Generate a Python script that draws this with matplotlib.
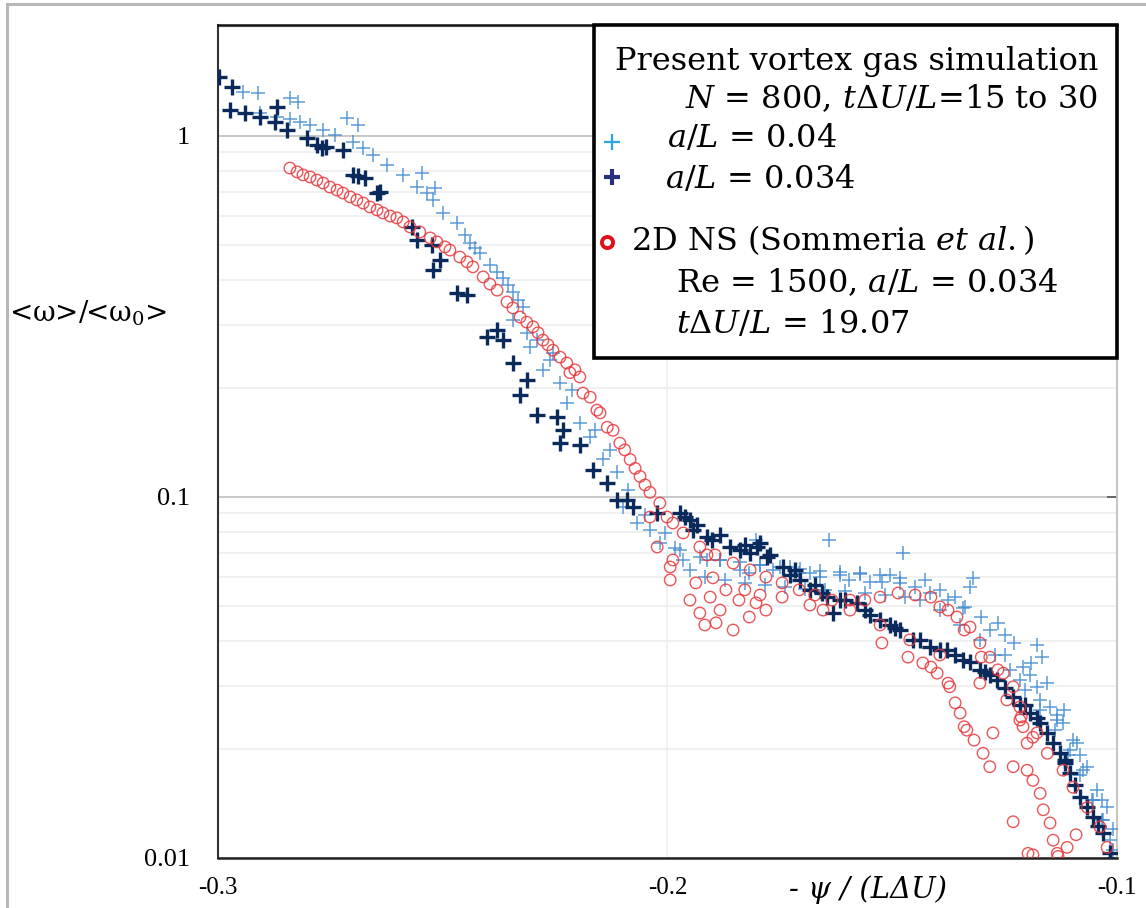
"""
 Vortex gas vs 2D NS — mean vorticity vs stream function (log scale)
"""

import matplotlib
matplotlib.use('Agg')
import matplotlib.pyplot as plt
from matplotlib.patches import Rectangle
from matplotlib.lines import Line2D
from matplotlib.ticker import LogLocator, NullFormatter

plt.rcParams['mathtext.fontset'] = 'dejavuserif'
plt.rcParams['axes.unicode_minus'] = False

# ── Data ─────────────────────────────────────────────
# vortex gas, a/L = 0.04
lb_x = [-0.2944, -0.2911, -0.2840, -0.2822, -0.2713, -0.2688, -0.2907, -0.2869, -0.2840, -0.2818,
        -0.2795, -0.2766, -0.2740, -0.2700, -0.2677, -0.2655, -0.2624, -0.2588, -0.2557, -0.2535,
        -0.2522, -0.2499, -0.2468, -0.2546, -0.2517, -0.2439, -0.2417, -0.2395, -0.2366, -0.2344,
        -0.2321, -0.2344, -0.2313, -0.2306, -0.2277, -0.2255, -0.2239, -0.2224, -0.2195, -0.2172,
        -0.2143, -0.2112, -0.2099, -0.2068, -0.2039, -0.2017, -0.1972, -0.1950, -0.1912, -0.1965,
        -0.1884, -0.1839, -0.1818, -0.1794, -0.1765, -0.1727, -0.1707, -0.1683, -0.1661, -0.1616,
        -0.1596, -0.1572, -0.1549, -0.1522, -0.1505, -0.1483, -0.1449, -0.1427, -0.1416, -0.1394,
        -0.1376, -0.1360, -0.1338, -0.1302, -0.1283, -0.1265, -0.1249, -0.1229, -0.1215, -0.1209,
        -0.1191, -0.1178, -0.1171, -0.1155, -0.1149, -0.1134, -0.1120, -0.1118, -0.1105, -0.1098,
        -0.1089, -0.1076, -0.1066, -0.1053, -0.1044, -0.1031, -0.1022, -0.1016, -0.1009, -0.1009,
        -0.1803, -0.1641, -0.1476, -0.1320, -0.1327, -0.1178, -0.1167,
        # upper part, extra readings
        -0.2450, -0.2428, -0.2379, -0.2355, -0.2333, -0.2290, -0.2261, -0.2212, -0.2161, -0.2128,
        -0.2088, -0.2050, -0.2005, -0.1983,
        # plateau band, upper and lower edge
        -0.1928, -0.1883, -0.1839, -0.1794, -0.1750, -0.1705, -0.1661, -0.1616, -0.1572, -0.1527,
        -0.1483, -0.1916, -0.1872, -0.1827, -0.1783, -0.1738, -0.1694, -0.1649, -0.1605, -0.1560,
        -0.1516, -0.1471,
        # falling band
        -0.1438, -0.1394, -0.1349, -0.1305, -0.1271, -0.1238, -0.1204, -0.1171, -0.1138, -0.1109,
        -0.1082, -0.1055, -0.1033, -0.1342, -0.1249, -0.1193, -0.1133, -0.1082, -0.1033]
lb_y = [1.324, 1.315, 1.274, 1.243, 1.122, 1.073, 1.158, 1.129, 1.115, 1.094,
        1.073, 1.039, 1.006, 0.963, 0.926, 0.886, 0.831, 0.780, 0.722, 0.695,
        0.665, 0.612, 0.574, 0.790, 0.718, 0.505, 0.474, 0.439, 0.404, 0.370,
        0.336, 0.309, 0.285, 0.260, 0.225, 0.251, 0.207, 0.182, 0.160, 0.147,
        0.127, 0.117, 0.0938, 0.0847, 0.0810, 0.0746, 0.0713, 0.0628, 0.0669, 0.0669,
        0.0669, 0.0628, 0.0616, 0.0648, 0.0628, 0.0640, 0.0616, 0.0616, 0.0600, 0.0608,
        0.0589, 0.0616, 0.0581, 0.0581, 0.0608, 0.0578, 0.0563, 0.0589, 0.0542, 0.0553,
        0.0518, 0.0528, 0.0496, 0.0465, 0.0428, 0.0448, 0.0365, 0.0394, 0.0311, 0.0338,
        0.0347, 0.0298, 0.0274, 0.0305, 0.0262, 0.0241, 0.0237, 0.0257, 0.0199, 0.0212,
        0.0208, 0.0175, 0.0179, 0.0145, 0.0154, 0.0127, 0.0138, 0.0112, 0.0120, 0.0105,
        0.0760, 0.0760, 0.0700, 0.0597, 0.0563, 0.0389, 0.0360,
        0.532, 0.490, 0.420, 0.387, 0.351, 0.272, 0.240, 0.198, 0.153, 0.135,
        0.1045, 0.0892, 0.0795, 0.0722,
        0.0682, 0.0669, 0.0660, 0.0648, 0.0640, 0.0632, 0.0624, 0.0620, 0.0612, 0.0608,
        0.0597, 0.0600, 0.0589, 0.0578, 0.0571, 0.0563, 0.0556, 0.0553, 0.0549, 0.0542,
        0.0535, 0.0528,
        0.0518, 0.0486, 0.0442, 0.0402, 0.0365, 0.0332, 0.0292, 0.0257, 0.0226, 0.0193,
        0.0170, 0.0145, 0.0127, 0.0493, 0.0415, 0.0321, 0.0249, 0.0193, 0.0145]

# vortex gas, a/L = 0.034
dk_x = [-0.2998, -0.2969, -0.2973, -0.2940, -0.2907, -0.2869, -0.2873, -0.2846, -0.2802, -0.2780,
        -0.2769, -0.2760, -0.2722, -0.2700, -0.2689, -0.2673, -0.2646, -0.2640, -0.2568, -0.2557,
        -0.2524, -0.2506, -0.2522, -0.2468, -0.2446, -0.2401, -0.2379, -0.2366, -0.2344, -0.2313,
        -0.2328, -0.2290, -0.2246, -0.2232, -0.2239, -0.2195, -0.2166, -0.2134, -0.2112, -0.2090,
        -0.2077, -0.2023, -0.1972, -0.1950, -0.1943, -0.1912, -0.1884, -0.1861, -0.1828, -0.1801,
        -0.1794, -0.1778, -0.1772, -0.1743, -0.1717, -0.1705, -0.1672, -0.1645, -0.1632, -0.1605,
        -0.1578, -0.1561, -0.1527, -0.1505, -0.1483, -0.1454, -0.1416, -0.1378, -0.1360, -0.1342,
        -0.1305, -0.1283, -0.1267, -0.1231, -0.1215, -0.1194, -0.1171, -0.1155, -0.1142, -0.1127,
        -0.1116, -0.1105, -0.1082, -0.1066, -0.1053, -0.1031, -0.1016, -0.1016,
        # plateau / falling band, extra readings
        -0.1961, -0.1934, -0.1901, -0.1839, -0.1816, -0.1727, -0.1683, -0.1656, -0.1616, -0.1549,
        -0.1494, -0.1438, -0.1394, -0.1327, -0.1293, -0.1249, -0.1204, -0.1178, -0.1116, -0.1093,
        -0.1042]
dk_y = [1.457, 1.367, 1.180, 1.158, 1.129, 1.203, 1.094, 1.039, 0.987, 0.944,
        0.926, 0.935, 0.915, 0.780, 0.776, 0.765, 0.695, 0.700, 0.560, 0.515,
        0.499, 0.453, 0.425, 0.367, 0.363, 0.277, 0.290, 0.272, 0.235, 0.211,
        0.192, 0.169, 0.167, 0.153, 0.141, 0.139, 0.119, 0.109, 0.0981, 0.0981,
        0.0938, 0.0903, 0.0903, 0.0864, 0.0810, 0.0775, 0.0785, 0.0727, 0.0736, 0.0727,
        0.0746, 0.0682, 0.0691, 0.0640, 0.0628, 0.0589, 0.0571, 0.0528, 0.0477, 0.0518,
        0.0509, 0.0486, 0.0456, 0.0442, 0.0428, 0.0402, 0.0384, 0.0377, 0.0365, 0.0354,
        0.0332, 0.0321, 0.0311, 0.0279, 0.0265, 0.0252, 0.0237, 0.0222, 0.0208, 0.0195,
        0.0183, 0.0172, 0.0148, 0.0138, 0.0130, 0.0117, 0.0103, 0.0099,
        0.0880, 0.0836, 0.0760, 0.0713, 0.0700, 0.0608, 0.0553, 0.0542, 0.0518, 0.0471,
        0.0434, 0.0402, 0.0377, 0.0349, 0.0327, 0.0296, 0.0265, 0.0244, 0.0187, 0.0159,
        0.0123]

# 2D Navier-Stokes (Sommeria et al.)
rd_x = [-0.2840, -0.2824, -0.2811, -0.2795, -0.2780, -0.2766, -0.2751, -0.2735, -0.2722, -0.2706,
        -0.2691, -0.2677, -0.2662, -0.2646, -0.2633, -0.2617, -0.2602, -0.2588, -0.2573, -0.2551,
        -0.2528, -0.2513, -0.2495, -0.2484, -0.2462, -0.2446, -0.2433, -0.2410, -0.2395, -0.2379,
        -0.2357, -0.2344, -0.2328, -0.2313, -0.2299, -0.2288, -0.2277, -0.2266, -0.2255, -0.2239,
        -0.2224, -0.2217, -0.2206, -0.2195, -0.2188, -0.2172, -0.2157, -0.2150, -0.2134, -0.2121,
        -0.2106, -0.2095, -0.2083, -0.2072, -0.2061, -0.2050, -0.2039, -0.2017, -0.2001, -0.1988,
        -0.1965, -0.1928, -0.1894, -0.1854, -0.1816, -0.1781, -0.1745, -0.1707, -0.1672, -0.1634,
        -0.1594, -0.1561, -0.1527, -0.1487, -0.1449, -0.1414, -0.1394, -0.1376, -0.1356, -0.1340,
        -0.1327, -0.1305, -0.1302, -0.1283, -0.1265, -0.1253, -0.1231, -0.1216, -0.1213, -0.1209,
        -0.1200, -0.1178,
        -0.1594, -0.1527, -0.1461, -0.1394, -0.1305, -0.1245, -0.1216, -0.1187, -0.1155, -0.1120,
        -0.1098, -0.1066, -0.1038, -0.1022,
        -0.2039, -0.2023, -0.1994, -0.1994, -0.1988, -0.1950, -0.1937, -0.1928, -0.1917, -0.1905,
        -0.1892, -0.1883, -0.1870, -0.1854, -0.1841, -0.1828, -0.1818, -0.1803, -0.1794, -0.1781,
        -0.1745, -0.1683, -0.1654, -0.1912, -0.1899,
        -0.1523, -0.1465, -0.1432, -0.1414, -0.1400, -0.1376, -0.1372, -0.1360, -0.1349, -0.1340,
        -0.1334, -0.1318, -0.1298, -0.1283, -0.1276, -0.1231, -0.1200, -0.1187, -0.1171, -0.1164,
        -0.1149, -0.1142, -0.1133, -0.1231, -0.1198, -0.1187, -0.1131, -0.1111, -0.1091]
rd_y = [0.815, 0.795, 0.780, 0.770, 0.755, 0.741, 0.722, 0.708, 0.695, 0.678,
        0.665, 0.652, 0.636, 0.624, 0.612, 0.600, 0.593, 0.578, 0.560, 0.542,
        0.522, 0.509, 0.493, 0.483, 0.462, 0.448, 0.434, 0.407, 0.389, 0.374,
        0.347, 0.334, 0.315, 0.305, 0.296, 0.285, 0.272, 0.264, 0.255, 0.244,
        0.235, 0.221, 0.225, 0.215, 0.194, 0.189, 0.174, 0.171, 0.156, 0.153,
        0.141, 0.135, 0.127, 0.120, 0.114, 0.108, 0.103, 0.0962, 0.0880, 0.0847,
        0.0795, 0.0727, 0.0691, 0.0656, 0.0628, 0.0600, 0.0578, 0.0553, 0.0535, 0.0518,
        0.0518, 0.0518, 0.0528, 0.0542, 0.0535, 0.0528, 0.0496, 0.0486, 0.0465, 0.0428,
        0.0436, 0.0394, 0.0360, 0.0360, 0.0332, 0.0325, 0.0298, 0.0262, 0.0246, 0.0231,
        0.0208, 0.0222,
        0.0486, 0.0442, 0.0402, 0.0365, 0.0305, 0.0274, 0.0241, 0.0216, 0.0195, 0.0175,
        0.0157, 0.0138, 0.0122, 0.0107,
        0.0880, 0.0727, 0.0640, 0.0589, 0.0669, 0.0518, 0.0578, 0.0477, 0.0442, 0.0528,
        0.0448, 0.0486, 0.0553, 0.0428, 0.0518, 0.0553, 0.0465, 0.0509, 0.0535, 0.0486,
        0.0528, 0.0502, 0.0486, 0.0691, 0.0597,
        0.0394, 0.0360, 0.0347, 0.0338, 0.0325, 0.0305, 0.0298, 0.0269, 0.0252, 0.0231,
        0.0226, 0.0212, 0.0195, 0.0179, 0.0222, 0.0179, 0.0175, 0.0164, 0.0151, 0.0136,
        0.0125, 0.0112, 0.0103, 0.0126, 0.0103, 0.0102, 0.0101, 0.0107, 0.0116]

X_TICKS = [-0.3, -0.2, -0.1]
X_LABELS = ['-0.3', '-0.2', '-0.1']
Y_TICKS = [0.01, 0.1, 1]
Y_LABELS = ['0.01', '0.1', '1']

LB_COLOR = '#3f8ad0'
DK_COLOR = '#0b2a5c'
RD_COLOR = '#e8383c'
SERIF = 'DejaVu Serif'

# ── Figure / axes ─────────────────────────────
fig = plt.figure(figsize=(11.46, 9.08), dpi=100)
ax = fig.add_axes([0.1902, 0.0551, 0.7845, 0.9174])

# outer gray frame of the picture
fig.add_artist(Rectangle((0.0061, -0.5), 2.0, 1.4959, transform=fig.transFigure,
                         fill=False, edgecolor='#b8b8b8', linewidth=2.2))

ax.scatter(lb_x, lb_y, marker='+', s=95, linewidths=1.1, color=LB_COLOR, alpha=0.85, zorder=3)
ax.scatter(dk_x, dk_y, marker='+', s=140, linewidths=2.4, color=DK_COLOR, zorder=3)
ax.scatter(rd_x, rd_y, marker='o', s=68, linewidths=1.0, facecolors='none',
           edgecolors=RD_COLOR, alpha=0.85, zorder=4)

ax.set_yscale('log')
ax.set_xlim(-0.3, -0.1)
ax.set_ylim(0.01, 2.03)

ax.set_xticks(X_TICKS)
ax.set_xticklabels(X_LABELS, family='Liberation Serif', fontsize=18)
ax.set_yticks(Y_TICKS)
ax.set_yticklabels(Y_LABELS, family='Liberation Serif', fontsize=19)
ax.yaxis.set_minor_locator(LogLocator(base=10, subs=range(2, 10)))
ax.yaxis.set_minor_formatter(NullFormatter())

ax.tick_params(axis='x', length=0, pad=14)
ax.tick_params(axis='y', which='both', left=False, pad=20)
ax.tick_params(axis='y', which='major', right=True, direction='in', length=7,
               color='#555555', width=1.2)
ax.tick_params(axis='y', which='minor', right=False)

ax.set_axisbelow(True)
ax.yaxis.grid(True, which='major', color='#c4c4c4', linewidth=1.3)
ax.yaxis.grid(True, which='minor', color='#ececec', linewidth=1.1)
ax.xaxis.grid(True, which='major', color='#eeeeee', linewidth=1.1)

ax.spines['left'].set_color('#333333')
ax.spines['left'].set_linewidth(1.5)
ax.spines['bottom'].set_color('#222222')
ax.spines['bottom'].set_linewidth(1.8)
ax.spines['top'].set_color('#111111')
ax.spines['top'].set_linewidth(1.8)
ax.spines['right'].set_color('#c0c0c0')
ax.spines['right'].set_linewidth(1.3)

# ── Axis labels ───────────────────────────────
fig.text(0.077, 0.655, '<ω>/<ω$_0$>', family=SERIF, fontsize=20, ha='center', va='center')
fig.text(0.757, 0.020, '- ψ / (LΔU)', family=SERIF, style='italic', fontsize=21,
         ha='center', va='center')

# ── Legend box (drawn by hand, as in the original) ──
ax.add_patch(Rectangle((0.418, 0.6002), 0.582, 0.3998, transform=ax.transAxes,
                       facecolor='white', edgecolor='black', linewidth=2.6,
                       zorder=10, clip_on=False))

leg_kw = dict(transform=ax.transAxes, family=SERIF, fontsize=23, va='baseline', zorder=11)
ax.text(0.710, 0.946, 'Present vortex gas simulation', ha='center', **leg_kw)
ax.text(0.519, 0.900, r'$N$ = 800, $t\mathit{\Delta}U/L$=15 to 30', ha='left', **leg_kw)
ax.text(0.500, 0.854, r'$a/L$ = 0.04', ha='left', **leg_kw)
ax.text(0.497, 0.804, r'$a/L$ = 0.034', ha='left', **leg_kw)
ax.text(0.459, 0.730, r'2D NS (Sommeria $\mathit{et\ al.}$)', ha='left', **leg_kw)
ax.text(0.509, 0.679, r'Re = 1500, $a/L$ = 0.034', ha='left', **leg_kw)
ax.text(0.509, 0.630, r'$t\mathit{\Delta}U/L$ = 19.07', ha='left', **leg_kw)

key_kw = dict(transform=ax.transAxes, linestyle='none', zorder=11, clip_on=False)
ax.add_line(Line2D([0.438], [0.860], marker='+', markersize=11, markeredgewidth=1.6,
                   color='#2aa7df', **key_kw))
ax.add_line(Line2D([0.438], [0.818], marker='+', markersize=12, markeredgewidth=3.0,
                   color='#27307e', **key_kw))
ax.add_line(Line2D([0.433], [0.740], marker='o', markersize=8, markeredgewidth=2.8,
                   markerfacecolor='white', color='#e0101a', **key_kw))

plt.savefig('out.png', dpi=100)
plt.close()
print("saved -> out.png")
